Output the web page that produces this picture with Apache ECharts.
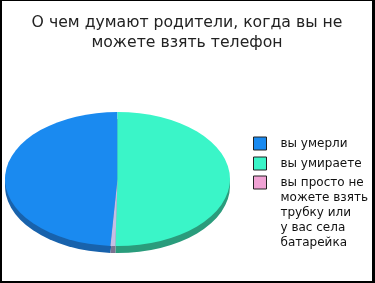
<!DOCTYPE html>
<html><head><meta charset="utf-8">
<script src="https://cdn.jsdelivr.net/npm/echarts@6/dist/echarts.min.js"></script>
<style>html,body{margin:0;padding:0;background:#000;width:375px;height:283px;overflow:hidden}#c{position:absolute;left:2px;top:1px;width:370px;height:280px;background:#fff}</style>
</head><body><div id="c"></div>
<script>
const titleText = 'О чем думают родители, когда вы не\nможете взять телефон';
const categories = ['вы умерли', 'вы умираете', 'вы просто не\nможете взять\nтрубку или\nу вас села\nбатарейка'];
const values = [49, 50.3, 0.7];
// order of slices going clockwise from 12 o'clock
const sliceOrder = [1, 2, 0];
const topColors = ['#1a8af0', '#3af5c8', '#c6bee4'];
const sideColors = ['#1862ac', '#2a9c7c', '#7c7290'];
const legendColors = ['#1a8af0', '#3af5c8', '#f0a2d4'];

const chart = echarts.init(document.getElementById('c'), null, {renderer: 'canvas'});
const total = values.reduce((a, b) => a + b, 0);
const CX = 115.5, CY = 178, R = 112.5, K = 0.596, DEPTH = 7;

function makeSeries(i) {
  let before = 0;
  for (const j of sliceOrder) { if (j === i) break; before += values[j]; }
  return {
    type: 'custom',
    name: categories[i],
    coordinateSystem: 'none',
    color: topColors[i],
    data: [[values[i]]],
    renderItem: function (params, api) {
      const v = api.value(0);
      const a0 = -Math.PI / 2 + before / total * 2 * Math.PI;
      const a1 = -Math.PI / 2 + (before + v) / total * 2 * Math.PI;
      const shape = {cx: 0, cy: 0, r0: 0, r: R, startAngle: a0, endAngle: a1, clockwise: true};
      return {
        type: 'group',
        children: [
          {type: 'sector', x: CX, y: CY + DEPTH, scaleY: K, shape: shape, style: {fill: sideColors[i]}, z2: 0},
          {type: 'sector', x: CX, y: CY, scaleY: K, shape: shape, style: {fill: topColors[i]}, z2: 10}
        ]
      };
    }
  };
}

const legendText = {fontFamily: 'DejaVu Sans', fontSize: 12, color: '#111', lineHeight: 15, padding: [0, 0, 0, 9]};

chart.setOption({
  animation: false,
  backgroundColor: '#fff',
  title: {
    text: titleText,
    left: 'center',
    top: 12,
    padding: 0,
    textStyle: {fontFamily: 'DejaVu Sans', fontSize: 15.7, fontWeight: 'normal', color: '#222', lineHeight: 20}
  },
  legend: [
    {
      orient: 'vertical', left: 251, top: 135, padding: 0,
      itemWidth: 13, itemHeight: 13, itemGap: 5, icon: 'rect',
      itemStyle: {borderColor: '#222', borderWidth: 1},
      textStyle: legendText,
      data: [
        {name: categories[0], itemStyle: {color: legendColors[0]}},
        {name: categories[1], itemStyle: {color: legendColors[1]}}
      ]
    },
    {
      orient: 'vertical', left: 251, top: 114, padding: 0,
      itemWidth: 13, itemHeight: 13, itemGap: 5, icon: 'rect',
      itemStyle: {borderColor: '#222', borderWidth: 1},
      textStyle: legendText,
      formatter: function (name) { return '\n\n\n\n' + name; },
      data: [
        {name: categories[2], itemStyle: {color: legendColors[2]}}
      ]
    }
  ],
  series: values.map((v, i) => makeSeries(i))
});
</script>
</body></html>
